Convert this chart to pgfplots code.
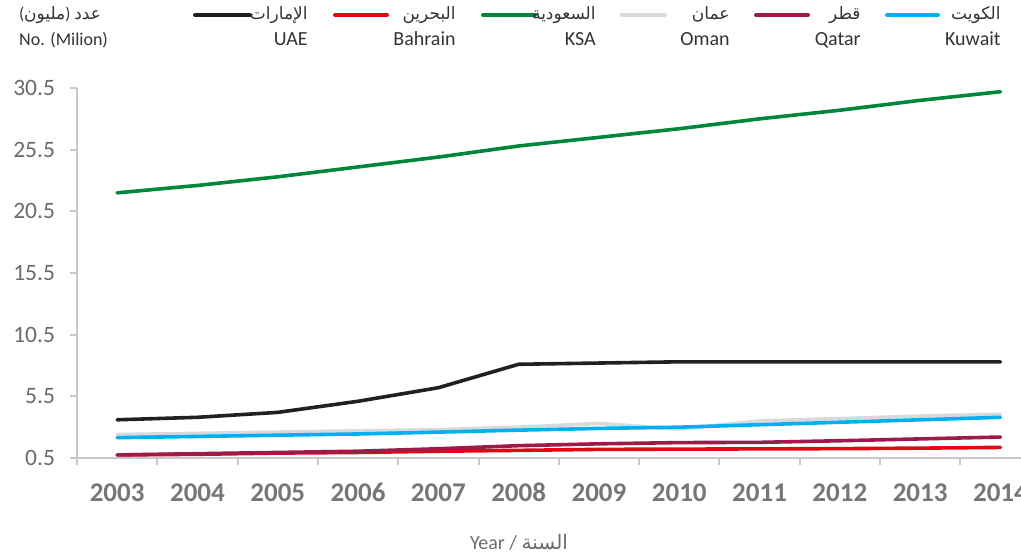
\documentclass[border=0pt]{standalone}
\usepackage{pgfplots}
\pgfplotsset{compat=1.18}
\usepackage{fontspec}
\setmainfont{Carlito}
\newfontfamily\arabicfont[Script=Arabic]{DejaVu Sans}
\TeXXeTstate=1
\definecolor{cUAE}{HTML}{231F20}
\definecolor{cBah}{HTML}{E30613}
\definecolor{cKSA}{HTML}{00873C}
\definecolor{cOman}{HTML}{D9D9D9}
\definecolor{cQat}{HTML}{9E1A4B}
\definecolor{cKuw}{HTML}{00B0F0}
\definecolor{axgrey}{HTML}{C8C8C8}
\definecolor{tickgrey}{HTML}{6B6B6B}
\definecolor{xgrey}{HTML}{767676}
\definecolor{legtext}{HTML}{333333}
\begin{document}
\begin{tikzpicture}
\useasboundingbox (0,0) rectangle (510.5pt,277pt);
\begin{axis}[
  at={(38.5pt,48pt)}, anchor=south west,
  scale only axis, width=481.8pt, height=185pt,
  xmin=-0.5, xmax=11.5, ymin=0.5, ymax=30.5,
  axis x line=bottom, axis y line=left,
  axis line style={-, draw=axgrey, line width=1pt},
  tick align=outside, major tick length=3.5pt,
  tick style={draw=axgrey, line width=1pt},
  xtick={-0.5,0.5,...,11.5},
  x tick label as interval,
  xticklabels={2003,2004,2005,2006,2007,2008,2009,2010,2011,2012,2013,2014},
  x tick label style={font=\fontsize{13.5}{14}\selectfont\bfseries, text=xgrey, yshift=-5pt, text height=9.5pt, text depth=0pt},
  ytick={0.5,5.5,10.5,15.5,20.5,25.5,30.5},
  yticklabels={0.5,5.5,10.5,15.5,20.5,25.5,30.5},
  y tick label style={font=\fontsize{11.75}{12}\selectfont, text=tickgrey, xshift=-4pt},
  /pgf/number format/assume math mode=true,
  every axis plot/.append style={line width=1.8pt, line cap=round, line join=round, mark=none},
]
\addplot[cUAE] coordinates {(0,3.6) (1,3.8) (2,4.2) (3,5.1) (4,6.2) (5,8.1) (6,8.2) (7,8.3) (8,8.3) (9,8.3) (10,8.3) (11,8.3)};
\addplot[cBah] coordinates {(0,0.75) (1,0.8) (2,0.9) (3,0.95) (4,1.05) (5,1.12) (6,1.2) (7,1.22) (8,1.24) (9,1.26) (10,1.3) (11,1.36)};
\addplot[cKSA] coordinates {(0,22.0) (1,22.6) (2,23.3) (3,24.1) (4,24.9) (5,25.8) (6,26.5) (7,27.2) (8,28.0) (9,28.7) (10,29.5) (11,30.2)};
\addplot[cOman] coordinates {(0,2.4) (1,2.5) (2,2.6) (3,2.7) (4,2.8) (5,3.0) (6,3.3) (7,2.85) (8,3.5) (9,3.7) (10,3.9) (11,4.05)};
\addplot[cQat] coordinates {(0,0.75) (1,0.85) (2,0.95) (3,1.05) (4,1.25) (5,1.5) (6,1.65) (7,1.75) (8,1.77) (9,1.9) (10,2.05) (11,2.2)};
\addplot[cKuw] coordinates {(0,2.15) (1,2.25) (2,2.35) (3,2.45) (4,2.6) (5,2.76) (6,2.9) (7,3.0) (8,3.2) (9,3.4) (10,3.6) (11,3.8)};
\end{axis}
% y-axis title
\node[anchor=base, font=\fontsize{8.5}{9}\selectfont, text=legtext, inner sep=0pt] at (30pt,267.25pt) {({\arabicfont\beginR مليون\endR}) {\arabicfont\beginR عدد\endR}};
\node[anchor=base, font=\fontsize{9}{10}\selectfont, text=legtext, inner sep=0pt] at (31.8pt,254.25pt) {No. (Milion)};
% legend
\def\legrow#1#2#3#4#5#6{%
  \draw[#1, line width=2pt, line cap=round] (#2pt,269.5pt) -- (#3pt,269.5pt);
  \node[anchor=base east, inner sep=0pt, font=\fontsize{8.5}{9}\selectfont, text=legtext] at (#4pt,267.25pt) {\arabicfont\beginR #5\endR};
  \node[anchor=base east, inner sep=0pt, font=\fontsize{10}{11}\selectfont, text=legtext] at (#4pt,254.25pt) {#6};
}
\legrow{cUAE}{97.5}{125}{154}{الإمارات}{UAE}
\legrow{cBah}{167.5}{193.5}{228}{البحرين}{Bahrain}
\legrow{cKSA}{241.5}{267.5}{298}{السعودية}{KSA}
\legrow{cOman}{311}{332.5}{365}{عمان}{Oman}
\legrow{cQat}{378}{404}{430.5}{قطر}{Qatar}
\legrow{cKuw}{443.5}{469}{500.5}{الكويت}{Kuwait}
% x label
\node[font=\fontsize{10}{11}\selectfont, text=tickgrey, inner sep=0pt] at (259.5pt,6pt) {Year / {\arabicfont\beginR السنة\endR}};
\end{tikzpicture}
\end{document}
